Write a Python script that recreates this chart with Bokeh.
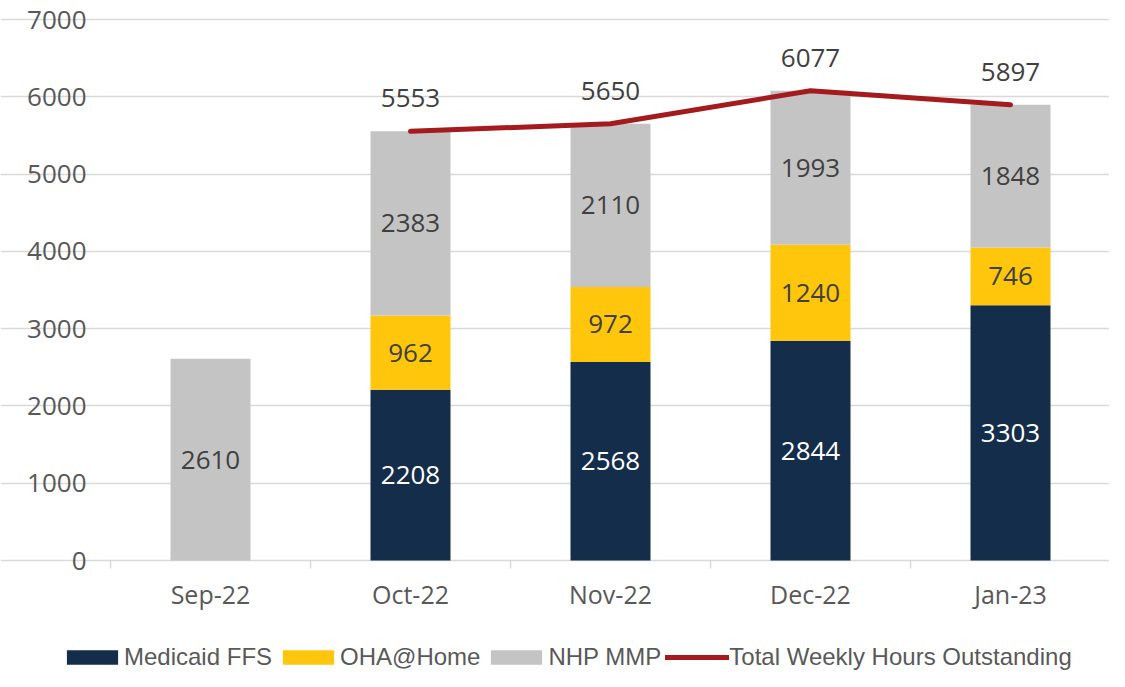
import math
from bokeh.plotting import figure
from bokeh.models import (ColumnDataSource, Range1d, FixedTicker, Legend, LegendItem)
from bokeh.core.properties import value
from bokeh.embed import file_html
from bokeh.resources import INLINE

months = ["Sep-22", "Oct-22", "Nov-22", "Dec-22", "Jan-23"]
medicaid_ffs = [0, 2208, 2568, 2844, 3303]
oha_home = [0, 962, 972, 1240, 746]
nhp_mmp = [2610, 2383, 2110, 1993, 1848]
totals = [float("nan"), 5553, 5650, 6077, 5897]
y_ticks = [0, 1000, 2000, 3000, 4000, 5000, 6000, 7000]
series_names = ["Medicaid FFS", "OHA@Home", "NHP MMP", "Total Weekly Hours Outstanding"]

C_NAVY = "#132D4B"
C_YEL = "#FFC60B"
C_GRAY = "#C4C4C4"
C_RED = "#A51A1C"
C_GRID = "#D9D9D9"
C_TXT = "#595959"
C_LBL = "#404040"
FONT = "Open Sans"

# layout (pixels): plotting area and figure size
W, H = 1109, 671
PL, PR, PT, PB = 110, 1110, 19, 560
n = len(months)
ymax = y_ticks[-1]
upx_x = n / (PR - PL)
upx_y = ymax / (PB - PT)
x_range = Range1d(-PL * upx_x, (W - PL) * upx_x)
y_range = Range1d(-(H - PB) * upx_y, ymax + PT * upx_y)

x = [i + 0.5 for i in range(n)]
b1 = [0] * n
t1 = medicaid_ffs
b2 = t1
t2 = [a + b for a, b in zip(t1, oha_home)]
b3 = t2
t3 = [a + b for a, b in zip(t2, nhp_mmp)]

p = figure(width=W, height=H, output_backend="svg", toolbar_location=None,
           x_range=x_range, y_range=y_range,
           x_axis_location=None, y_axis_location=None,
           min_border_left=0, min_border_right=0, min_border_top=0, min_border_bottom=0)
p.outline_line_color = None
p.background_fill_color = "white"

# grid (value gridlines across the category span only)
p.xgrid.grid_line_color = None
p.ygrid.ticker = FixedTicker(ticks=y_ticks)
p.ygrid.grid_line_color = C_GRID
p.ygrid.grid_line_width = 1.5
p.ygrid.bounds = (0, n)

# category boundary tick marks below the baseline
bounds_x = list(range(n + 1))
p.segment(x0=bounds_x, y0=[0] * (n + 1), x1=bounds_x, y1=[-8 * upx_y] * (n + 1),
          line_color=C_GRID, line_width=1.5)

r1 = p.vbar(x=x, bottom=b1, top=t1, width=0.4, fill_color=C_NAVY, line_color=None)
r2 = p.vbar(x=x, bottom=b2, top=t2, width=0.4, fill_color=C_YEL, line_color=None)
r3 = p.vbar(x=x, bottom=b3, top=t3, width=0.4, fill_color=C_GRAY, line_color=None)
r4 = p.line(x=x, y=totals, line_color=C_RED, line_width=5, line_cap="round", line_join="round")

def seg_labels(vals, bottoms, color):
    xs, ys, ts = [], [], []
    for xi, v, b in zip(x, vals, bottoms):
        if v > 0:
            xs.append(xi)
            ys.append(b + v / 2)
            ts.append(str(v))
    src = ColumnDataSource(dict(x=xs, y=ys, t=ts))
    p.text(x="x", y="y", text="t", source=src, text_align="center", text_baseline="middle",
           text_color=color, text_font=value(FONT), text_font_size="26px")

seg_labels(medicaid_ffs, b1, "white")
seg_labels(oha_home, b2, C_LBL)
seg_labels(nhp_mmp, b3, C_LBL)

tx = [xi for xi, t in zip(x, totals) if not math.isnan(t)]
ty = [t for t in totals if not math.isnan(t)]
tsrc = ColumnDataSource(dict(x=tx, y=ty, t=[str(int(t)) for t in ty]))
p.text(x="x", y="y", text="t", source=tsrc, text_align="center", text_baseline="middle",
       y_offset=-33, text_color=C_LBL, text_font=value(FONT), text_font_size="26px")

# category labels
p.text(x=x, y=[0] * n, text=months, text_align="center", text_baseline="middle",
       y_offset=33, text_color=C_TXT, text_font=value(FONT), text_font_size="25px")

# value labels
p.text(x=[0] * len(y_ticks), y=y_ticks, text=[str(v) for v in y_ticks],
       text_align="right", text_baseline="middle", x_offset=-24,
       text_color=C_TXT, text_font=value(FONT), text_font_size="26px")

legend = Legend(items=[LegendItem(label=nm, renderers=[r]) for nm, r in zip(series_names, [r1, r2, r3, r4])],
                orientation="horizontal", location=(60, 0))
legend.glyph_width = 64
legend.glyph_height = 18
legend.label_standoff = 0
legend.spacing = 4
legend.padding = 0
legend.margin = 0
legend.border_line_color = None
legend.background_fill_alpha = 0
legend.label_text_font = "Liberation Sans"
legend.label_text_font_size = "24px"
legend.label_text_color = C_TXT
legend.label_height = 26
p.add_layout(legend, "center")

open("out.html", "w").write(file_html(p, INLINE))
